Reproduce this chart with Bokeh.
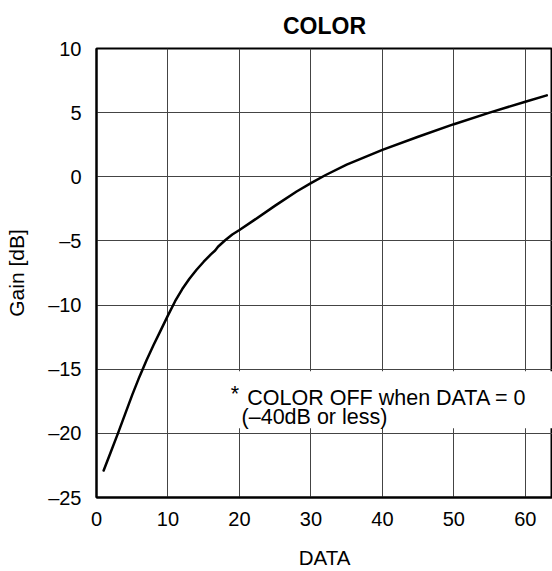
from bokeh.plotting import figure
from bokeh.models import Range1d, FixedTicker, CustomJSTickFormatter, BoxAnnotation, Label
from bokeh.embed import file_html
from bokeh.resources import INLINE

# ---- data ----
data_x = [1, 2, 3, 4, 5, 6, 7, 8, 9, 10, 11, 12, 13, 14, 15, 16, 16.6, 17, 18, 19, 20,
          22, 25, 28, 30, 32, 35, 40, 45, 50, 55, 60, 63]
gain_db = [-22.9, -21.45, -20.0, -18.5, -17.0, -15.6, -14.3, -13.1, -11.95, -10.8, -9.7,
           -8.75, -7.95, -7.25, -6.62, -6.05, -5.75, -5.45, -4.95, -4.5, -4.15,
           -3.4, -2.25, -1.15, -0.5, 0.12, 0.95, 2.1, 3.12, 4.1, 5.0, 5.85, 6.35]

x_ticks = [0, 10, 20, 30, 40, 50, 60]
x_tick_labels = ["0", "10", "20", "30", "40", "50", "60"]
y_ticks = [-25, -20, -15, -10, -5, 0, 5, 10]
y_tick_labels = ["\u201325", "\u201320", "\u201315", "\u201310", "\u20135", "0", "5", "10"]

title_text = "COLOR"
x_label = "DATA"
y_label = "Gain [dB]"
note_star = "*"
note_line1 = "COLOR OFF when DATA = 0"
note_line2 = "(\u201340dB or less)"

FONT = "Liberation Sans"

p = figure(width=552, height=571, output_backend="svg", toolbar_location=None,
           x_range=Range1d(0, 63.8), y_range=Range1d(-25, 10),
           min_border_left=96, min_border_right=0, min_border_top=47, min_border_bottom=70,
           background_fill_color="white", border_fill_color="white")

p.title.text = title_text
p.title.align = "center"
p.title.text_font = FONT
p.title.text_font_size = "23px"
p.title.text_font_style = "bold"
p.title.text_color = "black"
p.title.standoff = 20

p.outline_line_color = "black"
p.outline_line_width = 2

def fmt(tvals, tlabels):
    return CustomJSTickFormatter(args=dict(tvals=tvals, tlabels=tlabels),
                                 code="const i = tvals.indexOf(tick); return i >= 0 ? tlabels[i] : '';")

for ax, tv, tl, lab in ((p.xaxis[0], x_ticks, x_tick_labels, x_label),
                        (p.yaxis[0], y_ticks, y_tick_labels, y_label)):
    ax.ticker = FixedTicker(ticks=tv)
    ax.formatter = fmt(tv, tl)
    ax.axis_label = lab
    ax.axis_label_text_font = FONT
    ax.axis_label_text_font_style = "normal"
    ax.axis_label_text_color = "black"
    ax.major_label_text_font = FONT
    ax.major_label_text_font_size = "20px"
    ax.major_label_text_color = "black"
    ax.axis_line_color = "black"
    ax.axis_line_width = 2
    ax.major_tick_out = 0
    ax.major_tick_in = 0
    ax.minor_tick_out = 0
    ax.minor_tick_in = 0

p.xaxis.axis_label_text_font_size = "20.5px"
p.yaxis.axis_label_text_font_size = "21px"
p.xaxis.major_label_standoff = 14
p.yaxis.major_label_standoff = 15
p.xaxis.axis_label_standoff = 17
p.yaxis.axis_label_standoff = 17

p.xgrid.ticker = FixedTicker(ticks=x_ticks)
p.ygrid.ticker = FixedTicker(ticks=y_ticks)
p.grid.grid_line_color = "#444444"
p.grid.grid_line_width = 1

p.line(data_x, gain_db, line_color="black", line_width=2.5, line_join="round", line_cap="round")

# white box behind the note
p.add_layout(BoxAnnotation(left=18.3, bottom=-19.6, top=-15.15,
                           fill_color="white", fill_alpha=1.0, line_alpha=0, level="glyph"))
p.add_layout(Label(x=18.8, y=-16.92, text=note_star, text_font=FONT, text_font_size="21.5px",
                   text_color="black", text_baseline="alphabetic"))
p.add_layout(Label(x=21.1, y=-17.23, text=note_line1, text_font=FONT, text_font_size="21.5px",
                   text_color="black", text_baseline="alphabetic"))
p.add_layout(Label(x=20.3, y=-18.74, text=note_line2, text_font=FONT, text_font_size="21.5px",
                   text_color="black", text_baseline="alphabetic"))

open("out.html", "w").write(file_html(p, INLINE))
